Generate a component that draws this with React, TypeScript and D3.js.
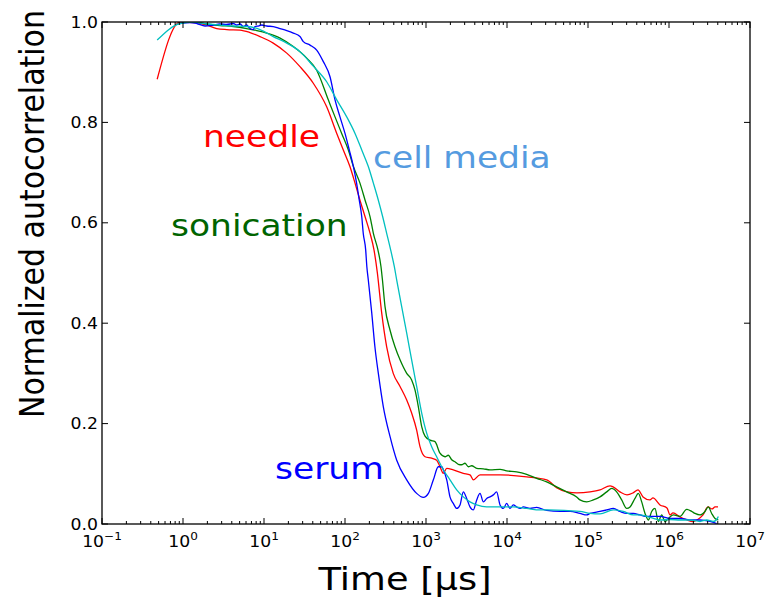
import React from 'react';
import * as d3 from 'd3';

// Normalized autocorrelation vs. lag time [μs] for four sample preparations.
const needle: [number, number][] = [
  [0.48, 0.886], [0.92, 1.0], [1.41, 0.999], [1.96, 0.994], [2.61, 0.987], [3.47, 0.985],
  [5.06, 0.984], [6.71, 0.979], [8.93, 0.971], [13.0, 0.958], [19.1, 0.938], [27.8, 0.911],
  [40.6, 0.878], [59.4, 0.831], [79.1, 0.778], [95.3, 0.745], [115, 0.712], [133, 0.679],
  [153, 0.645], [177, 0.612], [204, 0.579], [228, 0.546], [251, 0.5], [284, 0.42],
  [327, 0.353], [394, 0.3], [478, 0.274], [578, 0.247], [665, 0.221], [767, 0.187],
  [843, 0.154], [973, 0.134], [1175, 0.131], [1355, 0.127], [1490, 0.114], [1637, 0.101],
  [1803, 0.111], [2173, 0.108], [2884, 0.101], [3491, 0.098], [3837, 0.088], [4645, 0.098],
  [8204, 0.098], [17500, 0.094], [30900, 0.088], [41400, 0.072], [55100, 0.064], [73100, 0.062],
  [106000, 0.064], [141000, 0.068], [187000, 0.076], [204000, 0.074], [248000, 0.064],
  [303000, 0.058], [360000, 0.062], [414000, 0.068], [478000, 0.054], [582000, 0.048],
  [634000, 0.052], [774000, 0.038], [944000, 0.032], [1030000, 0.018], [1120000, 0.022],
  [1370000, 0.014], [1670000, 0.008], [1980000, 0.005], [2220000, 0.008], [2630000, 0.018],
  [3030000, 0.034], [3400000, 0.03], [3700000, 0.034], [4030000, 0.034],
];

const sonication: [number, number][] = [
  [0.96, 0.999], [1.41, 1.0], [1.96, 0.996], [2.86, 0.993], [4.18, 0.991], [6.11, 0.987],
  [8.13, 0.983], [10.8, 0.978], [15.8, 0.968], [23.0, 0.951], [33.7, 0.928], [44.7, 0.904],
  [62.2, 0.845], [75.3, 0.811], [91.0, 0.778], [110, 0.745], [127, 0.712], [153, 0.679],
  [177, 0.645], [204, 0.612], [224, 0.579], [255, 0.546], [278, 0.513], [290, 0.486],
  [312, 0.433], [360, 0.386], [414, 0.353], [478, 0.327], [578, 0.3], [665, 0.287],
  [731, 0.267], [804, 0.234], [885, 0.194], [973, 0.175], [1120, 0.167], [1291, 0.164],
  [1489, 0.141], [1718, 0.134], [1888, 0.137], [2075, 0.128], [2280, 0.124], [2506, 0.119],
  [2754, 0.118], [3027, 0.121], [3334, 0.114], [3664, 0.116], [4227, 0.111], [5105, 0.11],
  [6166, 0.108], [8204, 0.109], [9908, 0.106], [13150, 0.104], [17500, 0.099], [23230, 0.091],
  [30900, 0.084], [41000, 0.074], [54600, 0.064], [72400, 0.054], [79600, 0.048],
  [96400, 0.044], [116400, 0.048], [140600, 0.054], [170200, 0.064], [196300, 0.071],
  [225900, 0.064], [260600, 0.048], [300600, 0.031], [330400, 0.034], [380200, 0.051],
  [417800, 0.061], [460300, 0.044], [505800, 0.021], [555900, 0.008], [611000, 0.025],
  [671400, 0.031], [738000, 0.005], [812800, 0.018], [893300, 0.005], [981800, 0.011],
  [1132000, 0.018], [1368000, 0.015], [1652000, 0.029], [1905000, 0.025], [2094000, 0.021],
  [2415000, 0.018], [2780000, 0.025], [3055000, 0.034], [3365000, 0.021], [3698000, 0.011],
  [4064000, 0.008],
];

const serum: [number, number][] = [
  [0.92, 0.997], [1.22, 0.999], [1.48, 0.997], [1.87, 0.992], [2.37, 0.994], [2.86, 0.996],
  [3.46, 0.995], [4.18, 0.997], [4.6, 0.994], [5.06, 0.996], [5.56, 0.991], [6.11, 0.994],
  [6.71, 0.987], [7.38, 0.985], [7.74, 0.991], [8.51, 0.992], [9.38, 0.994], [10.8, 0.992],
  [13.0, 0.991], [15.8, 0.987], [19.1, 0.983], [23.0, 0.978], [27.8, 0.971], [30.6, 0.961],
  [37.0, 0.954], [44.7, 0.944], [54.0, 0.921], [65.3, 0.891], [75.3, 0.845], [86.7, 0.811],
  [100, 0.778], [113, 0.745], [127, 0.712], [139, 0.679], [150, 0.645], [161, 0.612],
  [168, 0.579], [180, 0.546], [186, 0.513], [194, 0.486], [214, 0.42], [234, 0.353],
  [258, 0.3], [297, 0.234], [360, 0.174], [435, 0.127], [578, 0.088], [767, 0.061],
  [927, 0.053], [1070, 0.061], [1233, 0.088], [1419, 0.114], [1563, 0.114], [1637, 0.108],
  [1803, 0.088], [1977, 0.054], [2173, 0.041], [2393, 0.031], [2630, 0.038], [2891, 0.064],
  [3177, 0.051], [3491, 0.034], [3837, 0.028], [4227, 0.048], [4645, 0.061], [5105, 0.044],
  [5610, 0.051], [6166, 0.054], [6776, 0.058], [7447, 0.064], [8204, 0.038], [9016, 0.031],
  [9908, 0.041], [10890, 0.031], [11970, 0.038], [13150, 0.034], [14450, 0.031],
  [15920, 0.034], [19230, 0.031], [23230, 0.033], [30900, 0.027], [45080, 0.025],
  [59980, 0.025], [79620, 0.021], [96400, 0.018], [105900, 0.021], [140600, 0.025],
  [170200, 0.028], [205600, 0.031], [248300, 0.025], [300600, 0.021], [363100, 0.021],
  [438500, 0.018], [530900, 0.015], [641200, 0.015], [774500, 0.015], [1028000, 0.011],
  [1368000, 0.011], [1816000, 0.008], [2415000, 0.008], [3206000, 0.005], [3873000, 0.001],
];

const cellMedia: [number, number][] = [
  [0.48, 0.964], [0.92, 0.997], [1.34, 1.0], [1.96, 0.996], [2.86, 0.994], [4.18, 0.992],
  [6.11, 0.991], [8.93, 0.985], [13.0, 0.971], [19.1, 0.958], [27.8, 0.941], [40.6, 0.912],
  [59.4, 0.881], [79.1, 0.845], [105, 0.811], [133, 0.778], [161, 0.745], [194, 0.712],
  [224, 0.679], [258, 0.645], [292, 0.612], [327, 0.579], [366, 0.546], [406, 0.513],
  [435, 0.486], [501, 0.433], [578, 0.38], [665, 0.327], [767, 0.274], [885, 0.221],
  [1019, 0.181], [1175, 0.154], [1355, 0.134], [1637, 0.108], [1977, 0.088], [2393, 0.068],
  [2891, 0.054], [3491, 0.044], [4227, 0.038], [5610, 0.034], [8204, 0.034], [11970, 0.034],
  [17500, 0.031], [25530, 0.028], [32360, 0.028], [79620, 0.025], [105900, 0.021],
  [140600, 0.02], [205600, 0.028], [272900, 0.025], [363100, 0.018], [438500, 0.018],
  [530900, 0.015], [641200, 0.011], [774500, 0.008], [1028000, 0.009], [1368000, 0.008],
  [1816000, 0.008], [2415000, 0.005], [2917000, 0.008], [3524000, 0.005], [3873000, 0.009],
  [4064000, 0.015],
];

const xExponents = [-1, 0, 1, 2, 3, 4, 5, 6, 7];
const yTicks = [0, 0.2, 0.4, 0.6, 0.8, 1.0];
const xTitle = 'Time [μs]';
const yTitle = 'Normalized autocorrelation';

const series = [
  { key: 'needle', data: needle, color: '#ff0000' },
  { key: 'sonication', data: sonication, color: '#008000' },
  { key: 'serum', data: serum, color: '#0000ff' },
  { key: 'cellMedia', data: cellMedia, color: '#00bfbf' },
];

const annotations = [
  { text: 'needle', x: 203, y: 147, color: '#ff0000' },
  { text: 'cell media', x: 373, y: 168, color: '#559be0' },
  { text: 'sonication', x: 171, y: 236, color: '#006400' },
  { text: 'serum', x: 275, y: 479, color: '#0000ff' },
];

const FONT = '"DejaVu Sans", Verdana, sans-serif';
const SX = 1.15; // glyphs are drawn slightly wide

export default function App() {
  const left = 102, right = 750, top = 22, bottom = 524;
  const x = d3.scaleLog().domain([1e-1, 1e7]).range([left, right]);
  const y = d3.scaleLinear().domain([0, 1]).range([bottom, top]);
  const line = d3
    .line<[number, number]>()
    .x((d) => x(d[0]))
    .y((d) => y(d[1]))
    .curve(d3.curveMonotoneX);

  const minor: number[] = [];
  for (let e = -1; e < 7; e++) for (let k = 2; k <= 9; k++) minor.push(k * Math.pow(10, e));

  const major = 6, minorLen = 3;
  const axisColor = '#000';

  return (
    <svg
      width={765}
      height={600}
      style={{ position: 'absolute', left: 0, top: 0, background: '#fff' }}
      fontFamily={FONT}
    >
      <rect x={0} y={0} width={765} height={600} fill="#fff" />
      <defs>
        <clipPath id="plot-area">
          <rect x={left} y={top} width={right - left} height={bottom - top} />
        </clipPath>
      </defs>

      <g clipPath="url(#plot-area)">
        {series.map((s) => (
          <path key={s.key} d={line(s.data) || ''} fill="none" stroke={s.color} strokeWidth={1.3} strokeLinejoin="round" />
        ))}
      </g>

      {/* ticks, pointing inward on all four sides */}
      <g stroke={axisColor} strokeWidth={1}>
        {xExponents.map((e) => {
          const px = x(Math.pow(10, e));
          return (
            <g key={'xM' + e}>
              <line x1={px} x2={px} y1={bottom} y2={bottom - major} />
              <line x1={px} x2={px} y1={top} y2={top + major} />
            </g>
          );
        })}
        {minor.map((v, i) => {
          const px = x(v);
          return (
            <g key={'xm' + i}>
              <line x1={px} x2={px} y1={bottom} y2={bottom - minorLen} />
              <line x1={px} x2={px} y1={top} y2={top + minorLen} />
            </g>
          );
        })}
        {yTicks.map((v) => {
          const py = y(v);
          return (
            <g key={'y' + v}>
              <line x1={left} x2={left + major} y1={py} y2={py} />
              <line x1={right} x2={right - major} y1={py} y2={py} />
            </g>
          );
        })}
      </g>

      <rect x={left} y={top} width={right - left} height={bottom - top} fill="none" stroke={axisColor} strokeWidth={1.3} />

      {/* tick labels */}
      {yTicks.map((v) => (
        <g key={'yl' + v} transform={`translate(${left - 4},${y(v) + 5.5}) scale(${SX},1)`}>
          <text textAnchor="end" fontSize={15} fill="#000">
            {v.toFixed(1)}
          </text>
        </g>
      ))}
      {xExponents.map((e) => (
        <g key={'xl' + e} transform={`translate(${x(Math.pow(10, e))},${547}) scale(${SX},1)`}>
          <text textAnchor="middle" fontSize={15} fill="#000">
            10
            <tspan fontSize={10.5} dy={-7}>
              {e < 0 ? '\u2212' + Math.abs(e) : String(e)}
            </tspan>
          </text>
        </g>
      ))}

      {/* axis titles */}
      <g transform={`translate(405,590) scale(${SX},1)`}>
        <text textAnchor="middle" fontSize={32} fill="#000">
          {xTitle}
        </text>
      </g>
      <g transform={`translate(44,214) scale(${SX},1) rotate(-90)`}>
        <text textAnchor="middle" fontSize={30} fill="#000">
          {yTitle}
        </text>
      </g>

      {/* curve labels */}
      {annotations.map((a) => (
        <g key={a.text} transform={`translate(${a.x},${a.y}) scale(${SX},1)`}>
          <text fontSize={30} fill={a.color}>
            {a.text}
          </text>
        </g>
      ))}
    </svg>
  );
}
